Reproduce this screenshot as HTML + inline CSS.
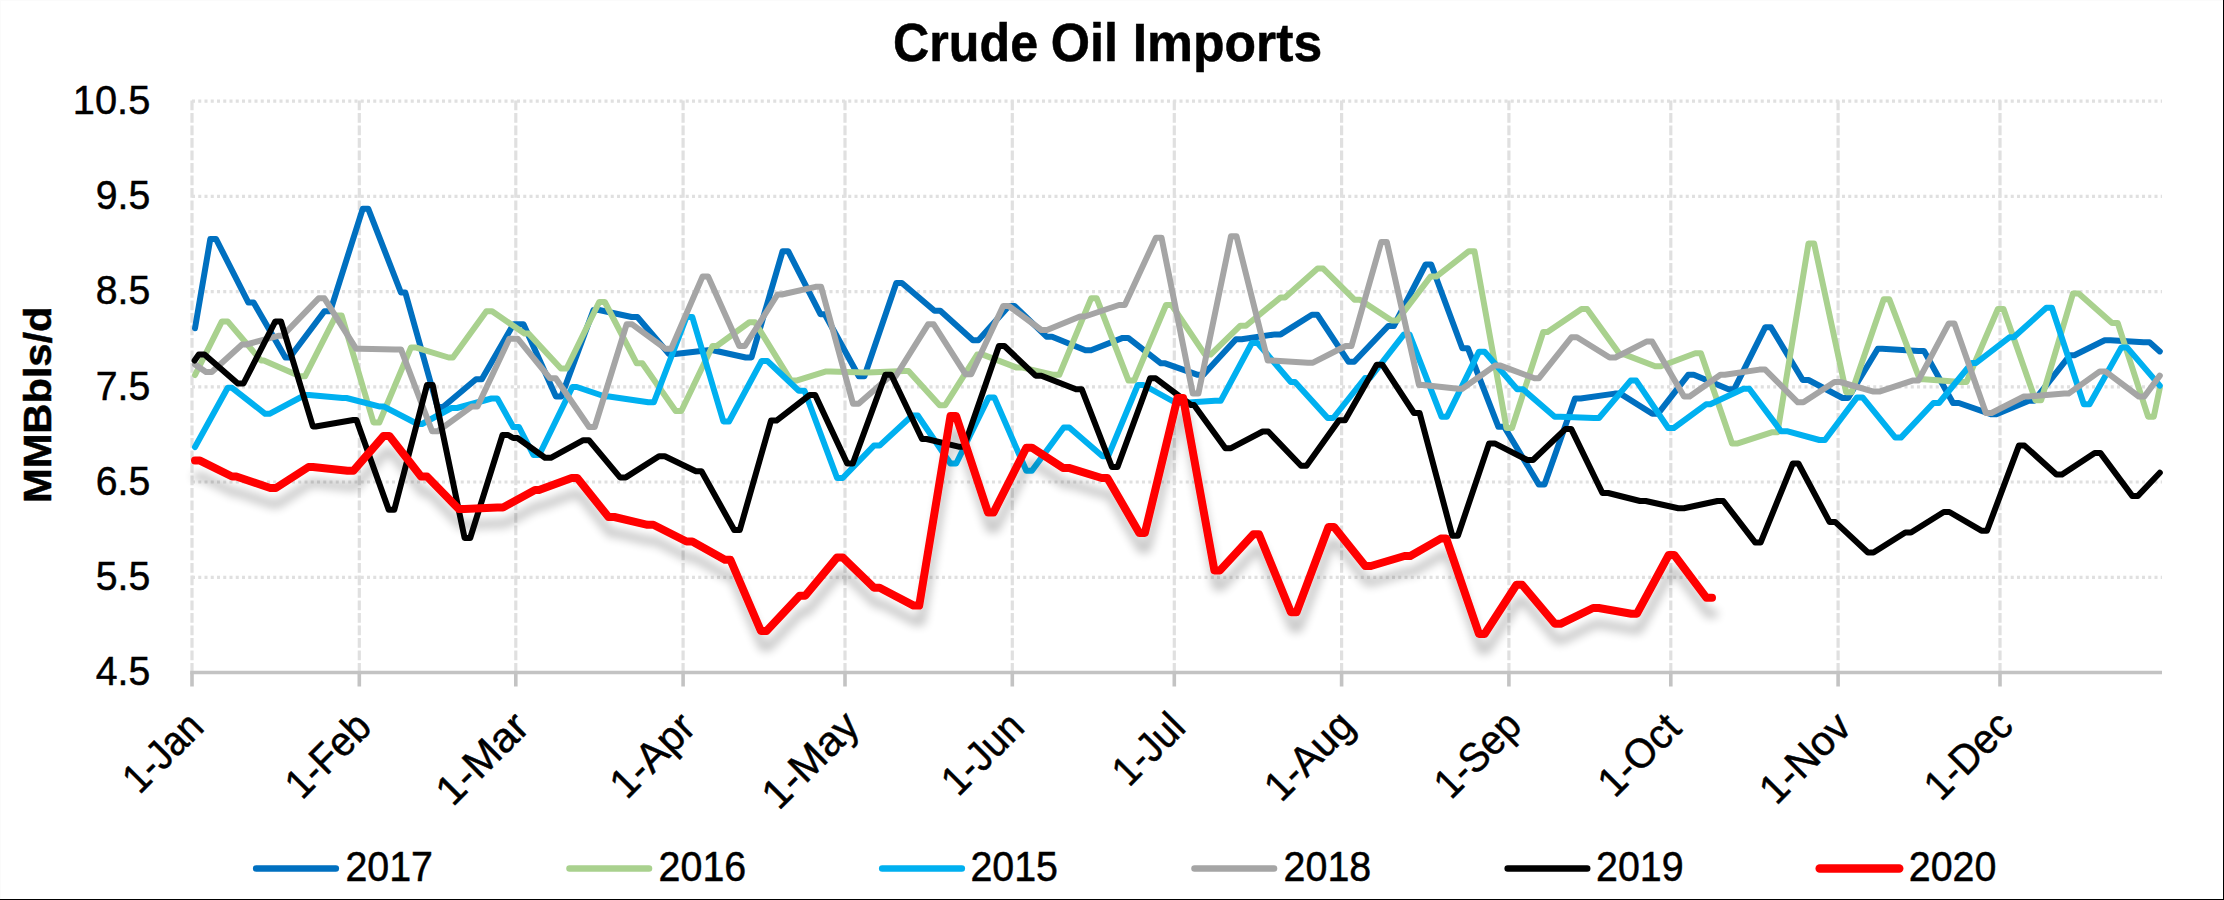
<!DOCTYPE html>
<html><head><meta charset="utf-8"><title>Crude Oil Imports</title>
<style>html,body{margin:0;padding:0;background:#fff;}body{width:2224px;height:900px;overflow:hidden;}svg{display:block;}text{font-family:"Liberation Sans",sans-serif;fill:#000;stroke:#000;stroke-width:0.5px;}</style>
</head><body>
<svg width="2224" height="900" viewBox="0 0 2224 900">
<defs><filter id="sh" x="-5%" y="-20%" width="110%" height="150%"><feGaussianBlur in="SourceAlpha" stdDeviation="4.6"/><feOffset dx="2" dy="15.5" result="b"/><feComponentTransfer><feFuncA type="linear" slope="0.24"/></feComponentTransfer><feMerge><feMergeNode/><feMergeNode in="SourceGraphic"/></feMerge></filter></defs>
<rect x="0" y="0" width="2224" height="900" fill="#ffffff"/>
<rect x="0" y="0" width="2224" height="1" fill="#fbfbfb"/><rect x="0" y="0" width="1" height="900" fill="#fbfbfb"/>
<rect x="2223" y="0" width="1" height="900" fill="#000"/><rect x="0" y="899" width="2224" height="1" fill="#000"/>
<g stroke="#e0e0e0" stroke-width="3.2" fill="none">
<line x1="192.0" y1="101.1" x2="2162.0" y2="101.1" stroke-dasharray="3 3.25"/>
<line x1="192.0" y1="196.3" x2="2162.0" y2="196.3" stroke-dasharray="3 3.25"/>
<line x1="192.0" y1="291.6" x2="2162.0" y2="291.6" stroke-dasharray="3 3.25"/>
<line x1="192.0" y1="386.8" x2="2162.0" y2="386.8" stroke-dasharray="3 3.25"/>
<line x1="192.0" y1="482.0" x2="2162.0" y2="482.0" stroke-dasharray="3 3.25"/>
<line x1="192.0" y1="577.3" x2="2162.0" y2="577.3" stroke-dasharray="3 3.25"/>
<line x1="192.0" y1="100.6" x2="192.0" y2="672.5" stroke-dasharray="9.7 2.8"/>
<line x1="359.3" y1="100.6" x2="359.3" y2="672.5" stroke-dasharray="9.7 2.8"/>
<line x1="515.8" y1="100.6" x2="515.8" y2="672.5" stroke-dasharray="9.7 2.8"/>
<line x1="683.1" y1="100.6" x2="683.1" y2="672.5" stroke-dasharray="9.7 2.8"/>
<line x1="845.0" y1="100.6" x2="845.0" y2="672.5" stroke-dasharray="9.7 2.8"/>
<line x1="1012.3" y1="100.6" x2="1012.3" y2="672.5" stroke-dasharray="9.7 2.8"/>
<line x1="1174.3" y1="100.6" x2="1174.3" y2="672.5" stroke-dasharray="9.7 2.8"/>
<line x1="1341.6" y1="100.6" x2="1341.6" y2="672.5" stroke-dasharray="9.7 2.8"/>
<line x1="1508.9" y1="100.6" x2="1508.9" y2="672.5" stroke-dasharray="9.7 2.8"/>
<line x1="1670.8" y1="100.6" x2="1670.8" y2="672.5" stroke-dasharray="9.7 2.8"/>
<line x1="1838.1" y1="100.6" x2="1838.1" y2="672.5" stroke-dasharray="9.7 2.8"/>
<line x1="2000.0" y1="100.6" x2="2000.0" y2="672.5" stroke-dasharray="9.7 2.8"/>
</g>
<g stroke="#c3c3c3" stroke-width="3.6" fill="none">
<line x1="190.2" y1="672.5" x2="2162.0" y2="672.5"/>
<line x1="192.0" y1="672.5" x2="192.0" y2="686.5"/>
<line x1="359.3" y1="672.5" x2="359.3" y2="686.5"/>
<line x1="515.8" y1="672.5" x2="515.8" y2="686.5"/>
<line x1="683.1" y1="672.5" x2="683.1" y2="686.5"/>
<line x1="845.0" y1="672.5" x2="845.0" y2="686.5"/>
<line x1="1012.3" y1="672.5" x2="1012.3" y2="686.5"/>
<line x1="1174.3" y1="672.5" x2="1174.3" y2="686.5"/>
<line x1="1341.6" y1="672.5" x2="1341.6" y2="686.5"/>
<line x1="1508.9" y1="672.5" x2="1508.9" y2="686.5"/>
<line x1="1670.8" y1="672.5" x2="1670.8" y2="686.5"/>
<line x1="1838.1" y1="672.5" x2="1838.1" y2="686.5"/>
<line x1="2000.0" y1="672.5" x2="2000.0" y2="686.5"/>
</g>
<polyline points="195.0,328.3 210.3,239.1 216.1,239.1 248.4,302.6 253.6,302.6 285.4,357.5 289.7,357.5 324.4,311.3 330.2,311.3 362.7,208.8 368.3,208.8 400.9,292.5 405.3,292.5 437.5,407.0 443.0,407.0 476.0,379.2 481.8,379.2 513.5,324.3 523.5,324.3 555.9,396.5 561.4,396.5 593.5,310.0 599.1,310.0 631.6,317.0 637.4,317.0 669.0,354.0 675.0,354.0 708.0,350.3 713.0,350.3 745.7,357.5 751.5,357.5 782.6,251.2 788.2,251.2 820.4,314.2 824.8,314.2 858.8,376.3 864.4,376.3 896.3,283.0 901.9,283.0 934.5,310.7 940.3,310.7 972.9,340.2 978.4,340.2 1008.9,306.0 1014.5,306.0 1046.5,336.7 1052.1,336.7 1085.4,350.3 1091.0,350.3 1122.7,337.9 1128.2,337.9 1160.9,363.3 1165.2,363.3 1197.8,374.8 1203.4,374.8 1236.0,339.3 1241.7,339.3 1275.0,334.4 1280.7,334.4 1311.9,314.8 1317.5,314.8 1348.6,361.8 1354.2,361.8 1388.2,326.0 1393.8,326.0 1425.6,264.5 1431.2,264.5 1462.3,348.3 1468.0,348.3 1498.4,426.8 1504.2,426.8 1538.9,484.6 1544.5,484.6 1575.0,398.5 1580.7,398.5 1614.7,393.6 1620.3,393.6 1652.3,413.8 1657.9,413.8 1688.2,374.8 1693.8,374.8 1728.5,389.3 1734.1,389.3 1765.3,327.2 1770.9,327.2 1802.7,380.0 1808.5,380.0 1842.5,398.0 1848.1,398.0 1877.8,348.8 1882.2,348.8 1918.3,350.9 1924.0,350.9 1953.0,403.0 1958.8,403.0 1990.8,414.2 1996.4,414.2 2029.0,400.8 2034.0,400.8 2070.0,355.2 2074.4,355.2 2104.7,340.2 2110.5,340.2 2143.7,342.2 2149.5,342.2 2159.8,351.4" fill="none" stroke="#0070c0" stroke-width="6" stroke-linejoin="round" stroke-linecap="round" />
<polyline points="195.0,375.0 221.9,321.4 227.7,321.4 260.9,360.4 263.8,360.4 300.0,376.3 305.0,376.3 336.0,315.6 341.7,315.6 373.5,422.5 379.3,422.5 411.0,347.4 415.4,347.4 448.6,357.5 452.9,357.5 486.4,311.3 492.1,311.3 524.5,333.5 528.5,333.5 560.9,368.5 566.6,368.5 599.2,302.0 604.8,302.0 636.7,363.3 642.3,363.3 675.7,411.0 681.3,411.0 712.5,346.0 716.8,346.0 749.4,322.3 755.0,322.3 790.9,380.6 796.4,380.6 826.2,371.4 830.5,371.4 863.8,372.5 868.0,372.5 904.0,371.0 908.5,371.0 939.6,405.2 945.2,405.2 977.2,354.6 982.8,354.6 1016.8,367.6 1022.6,367.6 1053.7,374.8 1059.3,374.8 1091.1,298.3 1096.7,298.3 1128.5,380.6 1134.1,380.6 1166.0,305.0 1171.6,305.0 1205.0,354.6 1210.6,354.6 1240.3,325.7 1246.0,325.7 1280.7,297.4 1285.0,297.4 1317.6,268.6 1323.2,268.6 1354.4,299.7 1360.0,299.7 1391.6,320.5 1397.2,320.5 1430.5,276.6 1436.3,276.6 1468.9,251.2 1474.5,251.2 1506.5,428.0 1512.0,428.0 1543.2,332.0 1547.5,332.0 1581.5,309.0 1587.1,309.0 1620.0,354.6 1625.0,354.6 1655.2,366.2 1660.8,366.2 1695.3,353.2 1700.9,353.2 1732.0,443.4 1737.8,443.4 1772.4,432.2 1777.5,432.2 1808.5,243.4 1814.1,243.4 1846.1,392.2 1851.7,392.2 1883.7,299.2 1889.3,299.2 1919.7,379.2 1924.0,379.2 1960.5,382.0 1966.5,382.0 1997.9,309.0 2003.5,309.0 2035.5,400.3 2041.1,400.3 2073.0,293.4 2078.7,293.4 2112.0,322.9 2117.7,322.9 2148.1,416.7 2153.8,416.7 2159.8,388.0" fill="none" stroke="#a9d18e" stroke-width="6" stroke-linejoin="round" stroke-linecap="round" />
<polyline points="195.0,447.0 227.7,387.8 232.0,387.8 265.2,413.8 269.5,413.8 305.0,395.0 309.0,395.0 342.5,398.0 346.5,398.0 380.0,406.6 384.0,406.6 417.5,424.0 422.0,424.0 451.5,408.0 457.0,408.0 491.5,398.5 497.3,398.5 513.2,427.0 519.0,427.0 533.4,455.0 539.2,455.0 572.4,387.0 576.8,387.0 605.0,396.5 609.0,396.5 648.3,402.3 653.9,402.3 686.5,317.0 692.3,317.0 723.4,421.5 729.0,421.5 761.6,361.0 767.4,361.0 798.8,390.7 804.5,390.7 837.1,478.0 842.7,478.0 873.9,445.6 879.6,445.6 912.2,415.5 917.8,415.5 950.4,463.5 956.2,463.5 988.7,397.4 994.3,397.4 1026.3,470.8 1031.9,470.8 1063.7,427.4 1069.3,427.4 1102.5,456.3 1108.1,456.3 1137.8,385.0 1143.5,385.0 1176.0,403.0 1181.0,403.0 1215.1,400.8 1220.7,400.8 1251.8,343.0 1257.6,343.0 1290.8,382.0 1295.0,382.0 1327.7,418.0 1333.3,418.0 1365.0,378.0 1370.0,378.0 1403.9,334.4 1409.5,334.4 1441.5,416.7 1447.0,416.7 1479.0,351.7 1484.6,351.7 1517.2,389.3 1523.0,389.3 1554.7,416.7 1560.5,416.7 1594.0,418.0 1599.0,418.0 1630.6,380.6 1636.2,380.6 1668.2,428.0 1673.8,428.0 1706.0,404.3 1710.3,404.3 1743.5,388.7 1749.3,388.7 1781.0,431.2 1786.9,431.2 1819.4,440.0 1825.0,440.0 1857.0,397.4 1862.6,397.4 1895.3,437.6 1900.9,437.6 1933.4,403.0 1939.0,403.0 1971.8,363.0 1976.1,363.0 2009.4,337.3 2013.7,337.3 2046.3,307.8 2051.9,307.8 2083.8,404.3 2089.5,404.3 2121.4,347.4 2127.0,347.4 2159.8,385.6" fill="none" stroke="#00b0f0" stroke-width="6" stroke-linejoin="round" stroke-linecap="round" />
<polyline points="195.0,364.5 206.0,372.0 211.8,372.0 242.0,344.5 246.4,344.5 278.2,335.8 282.5,335.8 318.6,298.3 324.4,298.3 356.2,348.8 360.5,348.8 395.0,349.4 401.0,349.4 432.1,431.2 437.7,431.2 471.7,406.6 477.5,406.6 509.3,338.7 517.7,338.7 550.1,378.3 555.7,378.3 589.1,427.0 594.7,427.0 626.6,324.3 632.2,324.3 665.6,348.8 671.2,348.8 702.5,276.6 708.1,276.6 739.3,346.0 744.9,346.0 777.5,294.5 781.8,294.5 815.5,286.8 821.1,286.8 853.0,403.7 858.6,403.7 889.7,376.5 895.5,376.5 928.1,324.3 933.7,324.3 965.6,374.3 971.2,374.3 1003.2,306.0 1008.8,306.0 1041.4,330.0 1047.0,330.0 1080.0,316.5 1085.0,316.5 1119.0,305.0 1124.8,305.0 1155.9,237.7 1161.5,237.7 1192.8,393.6 1198.4,393.6 1231.0,236.2 1236.5,236.2 1267.7,360.4 1272.0,360.4 1308.0,362.7 1313.0,362.7 1345.7,346.0 1351.5,346.0 1381.2,242.0 1386.8,242.0 1419.0,385.0 1423.3,385.0 1458.0,388.7 1462.3,388.7 1494.9,365.6 1500.5,365.6 1534.5,378.3 1538.8,378.3 1571.4,337.3 1577.0,337.3 1609.6,357.5 1615.4,357.5 1646.5,341.6 1652.1,341.6 1684.0,396.5 1689.6,396.5 1720.4,374.8 1724.8,374.8 1759.4,369.6 1765.2,369.6 1797.8,402.3 1803.4,402.3 1834.5,382.0 1840.3,382.0 1873.5,391.6 1879.3,391.6 1912.5,380.6 1918.3,380.6 1948.8,323.4 1954.4,323.4 1985.9,413.0 1991.5,413.0 2023.9,396.5 2028.2,396.5 2064.3,393.6 2068.6,393.6 2099.8,371.4 2105.4,371.4 2138.8,396.5 2144.4,396.5 2159.8,375.6" fill="none" stroke="#a5a5a5" stroke-width="6" stroke-linejoin="round" stroke-linecap="round" />
<polyline points="194.6,360.5 198.8,354.6 204.5,354.6 237.8,383.5 243.5,383.5 275.3,321.4 281.0,321.4 312.9,426.5 315.7,426.5 353.3,420.0 356.5,420.0 388.7,509.7 394.3,509.7 427.0,385.0 432.7,385.0 464.6,538.0 470.2,538.0 502.5,435.0 508.1,435.0 513.2,438.0 517.5,438.0 545.0,457.8 550.8,457.8 583.3,440.2 588.9,440.2 620.0,477.4 625.8,477.4 659.0,456.3 664.8,456.3 695.9,471.3 701.5,471.3 734.2,530.0 739.8,530.0 771.0,420.6 776.5,420.6 809.7,395.0 815.2,395.0 847.2,463.5 852.8,463.5 885.4,374.8 891.2,374.8 922.0,439.0 926.5,439.0 958.5,446.7 964.0,446.7 998.9,346.0 1004.4,346.0 1035.6,375.7 1041.4,375.7 1076.0,389.3 1081.8,389.3 1111.9,467.0 1117.5,467.0 1150.1,378.3 1155.7,378.3 1191.0,405.0 1194.0,405.0 1225.4,448.2 1231.0,448.2 1262.7,431.5 1268.3,431.5 1301.0,465.8 1306.5,465.8 1339.0,420.3 1345.0,420.3 1376.7,364.7 1382.3,364.7 1414.0,413.0 1419.6,413.0 1452.3,535.7 1457.9,535.7 1489.1,443.4 1494.7,443.4 1527.4,460.0 1533.0,460.0 1565.6,428.9 1571.2,428.9 1602.4,493.0 1608.2,493.0 1640.0,501.0 1645.7,501.0 1678.3,508.3 1683.9,508.3 1717.5,501.0 1723.3,501.0 1755.1,542.4 1760.7,542.4 1792.8,463.5 1798.4,463.5 1829.5,521.9 1835.1,521.9 1867.9,552.5 1873.5,552.5 1905.3,532.5 1911.0,532.5 1943.8,512.0 1949.4,512.0 1981.4,530.7 1987.0,530.7 2018.9,445.6 2024.5,445.6 2056.4,474.5 2062.0,474.5 2094.7,452.9 2100.3,452.9 2132.2,495.9 2137.9,495.9 2159.8,472.8" fill="none" stroke="#000000" stroke-width="6" stroke-linejoin="round" stroke-linecap="round" />
<polyline points="195.0,460.6 200.0,460.6 232.0,476.5 236.3,476.5 270.3,488.0 275.9,488.0 308.5,467.0 312.9,467.0 347.5,470.8 353.3,470.8 383.6,436.0 389.4,436.0 421.0,476.5 427.0,476.5 458.7,509.0 464.5,509.0 497.3,507.4 503.0,507.4 535.0,490.0 539.0,490.0 571.7,478.0 577.3,478.0 608.5,517.0 614.3,517.0 647.5,524.8 653.3,524.8 686.5,541.5 692.3,541.5 724.9,559.7 730.4,559.7 760.9,631.0 766.5,631.0 799.6,595.8 805.2,595.8 837.1,557.4 842.7,557.4 873.9,587.7 879.6,587.7 913.7,605.6 919.2,605.6 950.5,415.9 956.1,415.9 988.0,512.6 993.5,512.6 1026.3,447.7 1031.9,447.7 1063.0,467.9 1068.8,467.9 1101.7,478.0 1107.4,478.0 1139.3,532.9 1144.9,532.9 1177.5,398.0 1183.1,398.0 1214.4,570.4 1220.0,570.4 1253.4,534.3 1259.0,534.3 1290.9,612.3 1296.5,612.3 1328.5,527.0 1334.1,527.0 1365.3,566.0 1370.9,566.0 1404.5,556.0 1410.3,556.0 1440.7,538.6 1446.3,538.6 1479.0,634.0 1484.6,634.0 1516.5,584.8 1522.1,584.8 1554.9,623.8 1560.5,623.8 1593.1,608.0 1598.7,608.0 1631.3,613.7 1637.0,613.7 1668.7,555.0 1674.3,555.0 1706.5,597.8 1712.0,597.8" fill="none" stroke="#ff0000" stroke-width="8" stroke-linejoin="round" stroke-linecap="round" filter="url(#sh)"/>
<text x="893.1" y="61" font-size="53" font-weight="bold" stroke="none" textLength="145.0" lengthAdjust="spacingAndGlyphs">Crude</text>
<text x="1050.7" y="61" font-size="53" font-weight="bold" stroke="none" textLength="67.3" lengthAdjust="spacingAndGlyphs">Oil</text>
<text x="1132.7" y="61" font-size="53" font-weight="bold" stroke="none" textLength="189.5" lengthAdjust="spacingAndGlyphs">Imports</text>
<text x="150.3" y="113.8" font-size="41.5" text-anchor="end" textLength="77.5" lengthAdjust="spacingAndGlyphs">10.5</text>
<text x="150.3" y="209.0" font-size="41.5" text-anchor="end" textLength="54.5" lengthAdjust="spacingAndGlyphs">9.5</text>
<text x="150.3" y="304.3" font-size="41.5" text-anchor="end" textLength="54.5" lengthAdjust="spacingAndGlyphs">8.5</text>
<text x="150.3" y="399.5" font-size="41.5" text-anchor="end" textLength="54.5" lengthAdjust="spacingAndGlyphs">7.5</text>
<text x="150.3" y="494.7" font-size="41.5" text-anchor="end" textLength="54.5" lengthAdjust="spacingAndGlyphs">6.5</text>
<text x="150.3" y="590.0" font-size="41.5" text-anchor="end" textLength="54.5" lengthAdjust="spacingAndGlyphs">5.5</text>
<text x="150.3" y="685.2" font-size="41.5" text-anchor="end" textLength="54.5" lengthAdjust="spacingAndGlyphs">4.5</text>
<text transform="translate(51.2,503) rotate(-90)" font-size="39" font-weight="bold" stroke="none" textLength="196.5" lengthAdjust="spacingAndGlyphs">MMBbls/d</text>
<text transform="translate(205.6,729.2) rotate(-45)" font-size="41.5" text-anchor="end" textLength="93.5" lengthAdjust="spacingAndGlyphs">1-Jan</text>
<text transform="translate(373.5,729.2) rotate(-45)" font-size="41.5" text-anchor="end" textLength="101.2" lengthAdjust="spacingAndGlyphs">1-Feb</text>
<text transform="translate(531.2,729.2) rotate(-45)" font-size="41.5" text-anchor="end" textLength="110.8" lengthAdjust="spacingAndGlyphs">1-Mar</text>
<text transform="translate(697.6,729.7) rotate(-45)" font-size="41.5" text-anchor="end" textLength="100.1" lengthAdjust="spacingAndGlyphs">1-Apr</text>
<text transform="translate(861.6,728.4) rotate(-45)" font-size="41.5" text-anchor="end" textLength="117.0" lengthAdjust="spacingAndGlyphs">1-May</text>
<text transform="translate(1026.3,729.3) rotate(-45)" font-size="41.5" text-anchor="end" textLength="96.3" lengthAdjust="spacingAndGlyphs">1-Jun</text>
<text transform="translate(1187.4,729.7) rotate(-45)" font-size="41.5" text-anchor="end" textLength="82.6" lengthAdjust="spacingAndGlyphs">1-Jul</text>
<text transform="translate(1356.6,728.0) rotate(-45)" font-size="41.5" text-anchor="end" textLength="106.5" lengthAdjust="spacingAndGlyphs">1-Aug</text>
<text transform="translate(1523.5,728.0) rotate(-45)" font-size="41.5" text-anchor="end" textLength="102.4" lengthAdjust="spacingAndGlyphs">1-Sep</text>
<text transform="translate(1683.2,730.4) rotate(-45)" font-size="41.5" text-anchor="end" textLength="96.9" lengthAdjust="spacingAndGlyphs">1-Oct</text>
<text transform="translate(1853.3,729.4) rotate(-45)" font-size="41.5" text-anchor="end" textLength="108.8" lengthAdjust="spacingAndGlyphs">1-Nov</text>
<text transform="translate(2015.1,728.1) rotate(-45)" font-size="41.5" text-anchor="end" textLength="104.8" lengthAdjust="spacingAndGlyphs">1-Dec</text>
<line x1="256.2" y1="868.4" x2="335.8" y2="868.4" stroke="#0070c0" stroke-width="6.5" stroke-linecap="round"/>
<text x="345.4" y="881.1" font-size="43" textLength="87.6" lengthAdjust="spacingAndGlyphs">2017</text>
<line x1="569.5" y1="868.4" x2="649.0" y2="868.4" stroke="#a9d18e" stroke-width="6.5" stroke-linecap="round"/>
<text x="658.6" y="881.1" font-size="43" textLength="87.6" lengthAdjust="spacingAndGlyphs">2016</text>
<line x1="882.2" y1="868.4" x2="961.8" y2="868.4" stroke="#00b0f0" stroke-width="6.5" stroke-linecap="round"/>
<text x="970.4" y="881.1" font-size="43" textLength="87.6" lengthAdjust="spacingAndGlyphs">2015</text>
<line x1="1194.5" y1="868.4" x2="1274.0" y2="868.4" stroke="#a5a5a5" stroke-width="6.5" stroke-linecap="round"/>
<text x="1283.6" y="881.1" font-size="43" textLength="87.6" lengthAdjust="spacingAndGlyphs">2018</text>
<line x1="1507.7" y1="868.4" x2="1587.2" y2="868.4" stroke="#000000" stroke-width="6.5" stroke-linecap="round"/>
<text x="1596.0" y="881.1" font-size="43" textLength="87.6" lengthAdjust="spacingAndGlyphs">2019</text>
<line x1="1819.7" y1="868.4" x2="1899.2" y2="868.4" stroke="#ff0000" stroke-width="8.5" stroke-linecap="round"/>
<text x="1908.8" y="881.1" font-size="43" textLength="87.6" lengthAdjust="spacingAndGlyphs">2020</text>
</svg></body></html>
